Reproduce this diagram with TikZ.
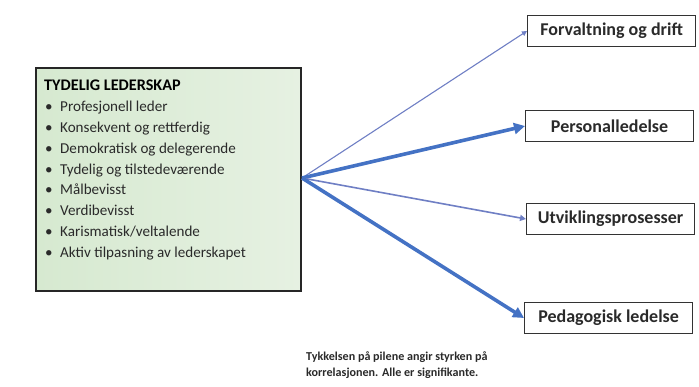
\documentclass[tikz,border=0pt]{standalone}
\usepackage{fontspec}
\setmainfont{Carlito}
\usetikzlibrary{arrows.meta}
\definecolor{leadfill}{HTML}{D6E9D0}
\definecolor{leadfillb}{HTML}{E6F1E2}
\definecolor{arrowblue}{HTML}{4472C4}
\definecolor{arrowthin}{HTML}{6F7FC4}
\definecolor{textgray}{HTML}{2A2A2A}
\newcommand{\leaditem}[1]{\makebox[16pt][l]{\hspace{1pt}\textbullet}#1}
\tikzset{
  x=1pt, y=-1pt,
  leadbox/.style={draw=black!85, line width=1.8pt, left color=leadfill, right color=leadfillb,
    minimum width=265pt, minimum height=223pt, anchor=north west, inner sep=0pt},
  leadtext/.style={anchor=north west, align=left, inner sep=0pt, text=textgray,
    font=\fontsize{15.1}{20.8}\selectfont},
  areabox/.style={draw=black!80, line width=1.2pt, fill=white, minimum width=168pt,
    minimum height=31pt, anchor=west, inner sep=0pt, text=textgray,
    font=\fontsize{18}{20}\selectfont\bfseries},
  strong/.style={draw=arrowblue, line width=3.6pt, -{Triangle[length=11pt,width=11pt]}},
  weak/.style={draw=arrowthin, line width=1.6pt, -{Triangle[length=6pt,width=6pt]}},
  faint/.style={draw=arrowthin, line width=1.1pt, -{Triangle[length=5pt,width=5pt]}},
  note/.style={anchor=north west, align=left, inner sep=0pt, text=textgray,
    font=\fontsize{12.1}{16}\selectfont\bfseries}
}
\begin{document}
\begin{tikzpicture}
\useasboundingbox (0,0) rectangle (699,387);
\node[leadbox] (lead) at (35,67) {};
\node[leadtext] (items) at (44,80) {%
  {\fontsize{16.2}{20.8}\selectfont\bfseries\color{black}TYDELIG LEDERSKAP}\\
  \leaditem{Profesjonell leder}\\
  \leaditem{Konsekvent og rettferdig}\\
  \leaditem{Demokratisk og delegerende}\\
  \leaditem{Tydelig og tilstedeværende}\\
  \leaditem{Målbevisst}\\
  \leaditem{Verdibevisst}\\
  \leaditem{Karismatisk/veltalende}\\
  \leaditem{Aktiv tilpasning av lederskapet}};
\coordinate (hub) at (302,178);
\node[areabox] (drift) at (527,31) {Forvaltning og drift};
\node[areabox] (personal) at (525,126) {Personalledelse};
\node[areabox] (utvikling) at (526,219) {Utviklingsprosesser};
\node[areabox] (pedagogisk) at (524,318) {Pedagogisk ledelse};
\draw[faint] (hub) -- (drift.west);
\draw[strong] (hub) -- (personal.west);
\draw[weak] (hub) -- (utvikling.west);
\draw[strong] (hub) -- (pedagogisk.west);
\node[note] (caption) at (306,352) {Tykkelsen på pilene angir styrken på\\korrelasjonen. Alle er signifikante.};
\end{tikzpicture}
\end{document}
